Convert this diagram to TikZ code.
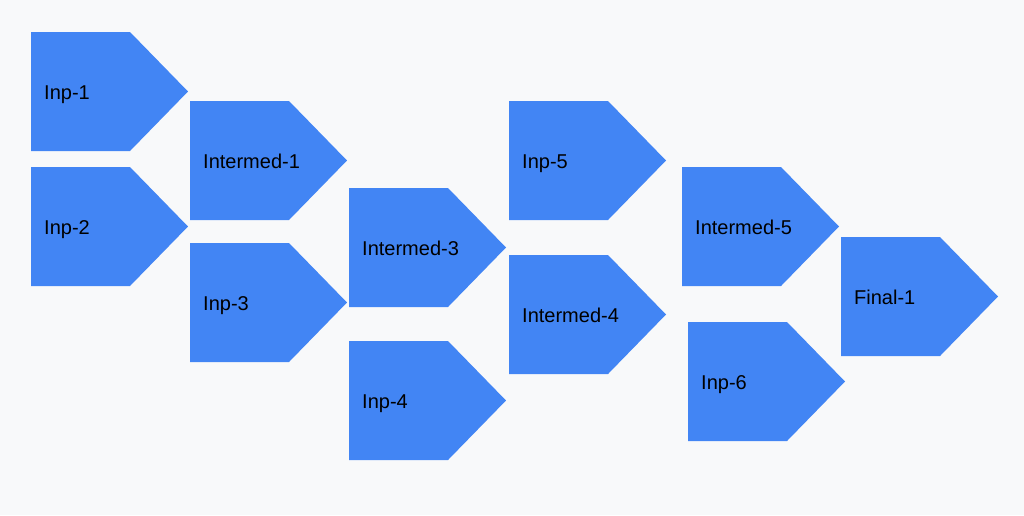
\documentclass[tikz,border=0pt]{standalone}
\usepackage{fontspec}
\setmainfont{Liberation Sans}
\definecolor{gblue}{HTML}{4285F4}
\definecolor{bgc}{HTML}{F8F9FA}
\tikzset{
  body/.style={minimum width=99pt, minimum height=119pt, inner sep=0pt, anchor=north west, outer sep=0pt},
  lbl/.style={anchor=base west, inner sep=0pt, text=black, font=\fontsize{20pt}{24pt}\selectfont},
  chevfill/.style={fill=gblue}
}
\newcommand\chevron[4]{%
  \node[body] (#1) at (#2,#3) {};
  \fill[chevfill] (#1.north west) -- (#1.north east) -- ++(58,59.5) -- (#1.south east) -- (#1.south west) -- cycle;
  \node[lbl] (#1-t) at ([xshift=13pt,yshift=-8pt]#1.west) {#4};
}
\begin{document}
\begin{tikzpicture}[x=1pt,y=-1pt]
\fill[bgc] (0,0) rectangle (1024,515);
\useasboundingbox (0,0) rectangle (1024,515);
\chevron{inp1}{31}{32}{Inp-1}
\chevron{inp2}{31}{167}{Inp-2}
\chevron{im1}{190}{101}{Intermed-1}
\chevron{inp3}{190}{243}{Inp-3}
\chevron{im3}{349}{188}{Intermed-3}
\chevron{inp4}{349}{341}{Inp-4}
\chevron{inp5}{509}{101}{Inp-5}
\chevron{im4}{509}{255}{Intermed-4}
\chevron{im5}{682}{167}{Intermed-5}
\chevron{inp6}{688}{322}{Inp-6}
\chevron{fin1}{841}{237}{Final-1}
\end{tikzpicture}
\end{document}
